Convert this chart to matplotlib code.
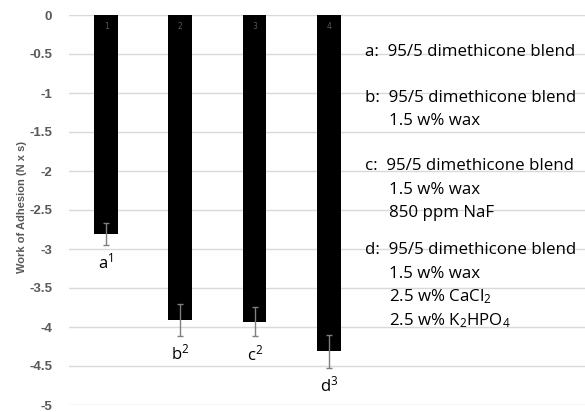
import matplotlib.pyplot as plt

plt.rcParams["mathtext.fontset"] = "custom"
plt.rcParams["mathtext.rm"] = "Open Sans"
plt.rcParams["mathtext.it"] = "Open Sans"
plt.rcParams["mathtext.bf"] = "Open Sans:bold"

# values
groups = ["1", "2", "3", "4"]
adhesion = [-2.81, -3.91, -3.93, -4.31]
errors = [0.14, 0.20, 0.19, 0.21]
letters = ["a$^{1}$", "b$^{2}$", "c$^{2}$", "d$^{3}$"]
yticks = [0, -0.5, -1, -1.5, -2, -2.5, -3, -3.5, -4, -4.5, -5]

key_heads = ["a:  95/5 dimethicone blend", "b:  95/5 dimethicone blend",
             "c:  95/5 dimethicone blend", "d:  95/5 dimethicone blend"]
key_extras = [
    [],
    ["1.5 w% wax"],
    ["1.5 w% wax", "850 ppm NaF"],
    ["1.5 w% wax", "2.5 w% CaCl$_{2}$", "2.5 w% K$_{2}$HPO$_{4}$"],
]

fig = plt.figure(figsize=(5.85, 4.12), dpi=100)
ax = fig.add_axes([69 / 585, 1 - 405 / 412, 1 - 69 / 585, 390 / 412])

x = list(range(len(adhesion)))
ax.bar(x, adhesion, width=0.32, color="black", zorder=3)
ax.errorbar(x, adhesion, yerr=errors, fmt="none", ecolor="#7f7f7f",
            elinewidth=1, capsize=2.5, capthick=1, zorder=4)

# small group numbers at top of each bar
for i in x:
    ax.text(i, -0.15, groups[i], ha="center", va="center", fontsize=5.5,
            color="#595959", zorder=5)

# significance letters under the error bars
for i in x:
    ax.text(i, adhesion[i] - errors[i] - 0.1, letters[i], ha="center", va="top",
            fontsize=12, family="Open Sans", color="black")

ax.set_xlim(-0.5, 6.45)
ax.set_ylim(-5, 0)
ax.set_yticks(yticks)
ax.set_yticklabels([f"{t:g}" for t in yticks], fontsize=9.5, fontweight="bold",
                   color="#595959", family="Liberation Sans")
ax.set_xticks([])
ax.tick_params(axis="y", length=0, pad=12)
ax.grid(axis="y", color="#d9d9d9", linewidth=1, zorder=0)
for s in ax.spines.values():
    s.set_visible(False)

fig.text(22 / 585, 1 - 207 / 412, "Work of Adhesion (N x s)", rotation=90,
         ha="center", va="center", fontsize=8, fontweight="bold",
         color="#595959", family="Liberation Sans")

# formulation key on the right
starts = [52, 98, 166, 250]
for head, extras, y0 in zip(key_heads, key_extras, starts):
    fig.text(365 / 585, 1 - y0 / 412, head, ha="left", va="center",
             fontsize=12.2, family="Open Sans", color="black")
    for k, line in enumerate(extras):
        fig.text(389 / 585, 1 - (y0 + (k + 1) * 23.5) / 412, line, ha="left",
                 va="center", fontsize=12.2, family="Open Sans", color="black")

fig.savefig("out.png", dpi=100)
